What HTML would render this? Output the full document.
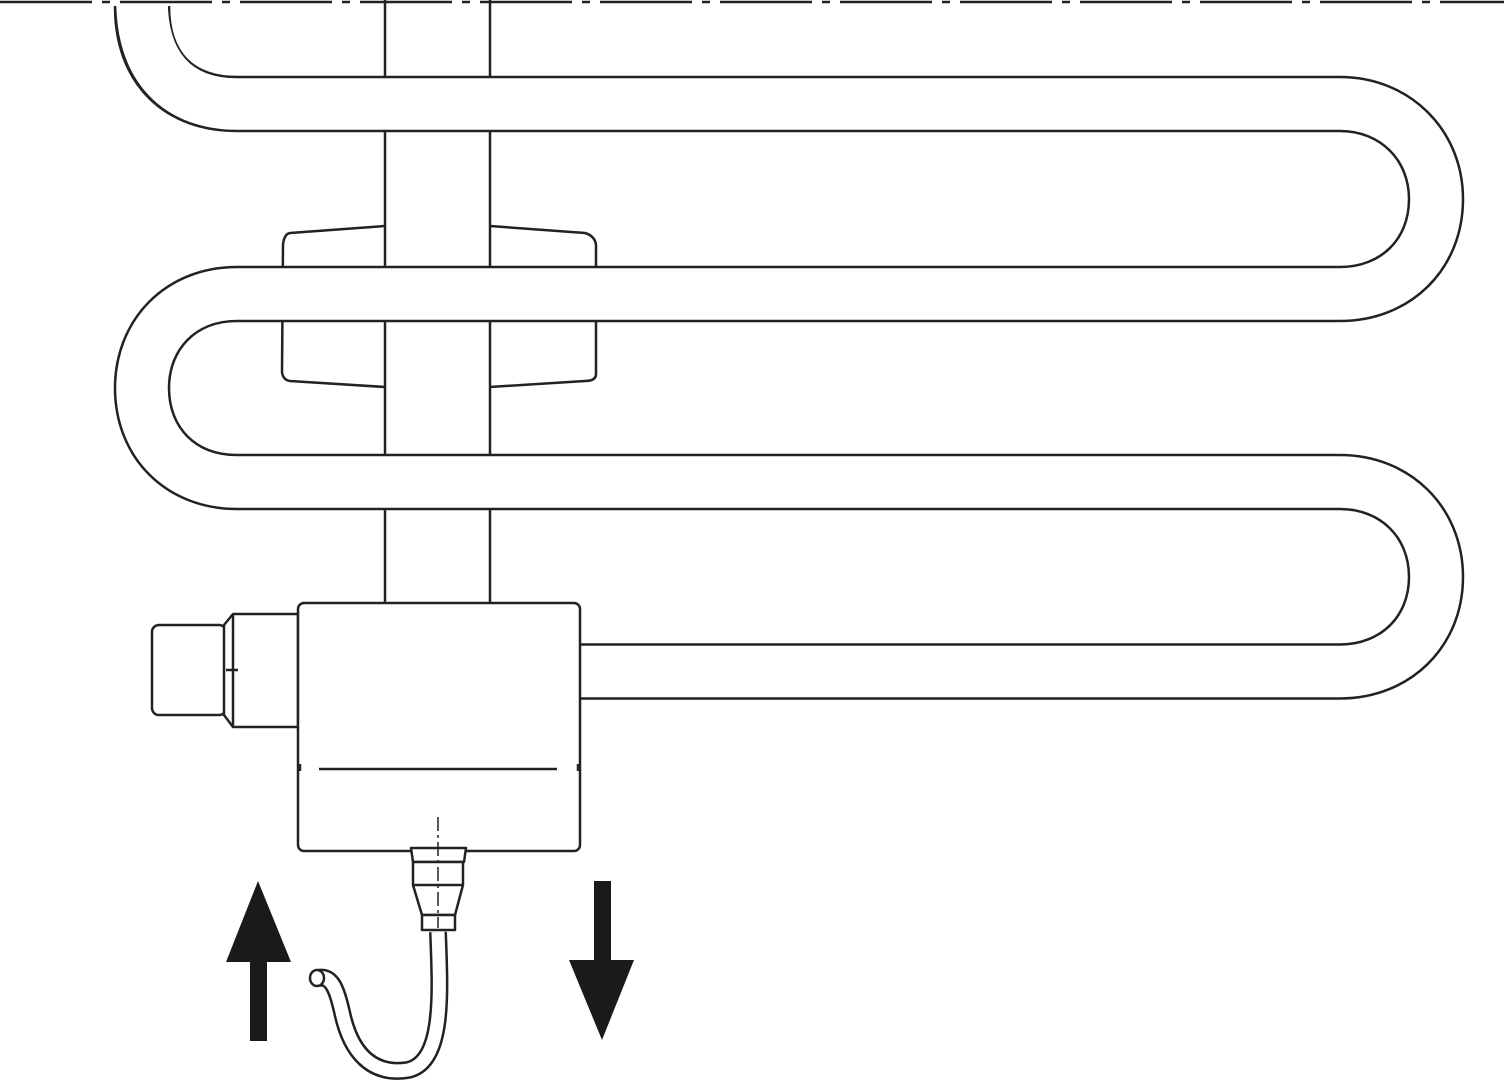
<!DOCTYPE html>
<html><head><style>html,body{margin:0;padding:0;background:#fff;}svg{display:block}</style></head>
<body>
<svg width="1504" height="1080" viewBox="0 0 1504 1080" xmlns="http://www.w3.org/2000/svg" fill="none" stroke="#222" stroke-width="2.5" stroke-linejoin="round">
<!-- bracket -->
<path d="M290,233 L385,226 L490,226 L585,233 Q595,236 596,245 L596,375 Q595,381 585,381 L490,387 L385,387 L290,381 Q283,380 282,372 L283,245 Q284,234 290,233 Z" fill="#fff"/>
<!-- bars -->
<rect x="385" y="0" width="105" height="605" fill="#fff" stroke="none"/>
<line x1="385" y1="0" x2="385" y2="605"/>
<line x1="490" y1="0" x2="490" y2="605"/>
<!-- tube -->
<g stroke-linecap="butt">
<path d="M142,6 C142,70 180,104 237,104 L1340,104 C1395,104 1436,145 1436,199 C1436,255 1395,294 1340,294 L237,294 C180,294 142,335 142,388 C142,442 180,482 237,482 L1340,482 C1395,482 1436,522 1436,577 C1436,632 1395,671.5 1340,671.5 L560,671.5" stroke="#222" stroke-width="56.5"/>
<path d="M142,0 C142,70 180,104 237,104 L1340,104 C1395,104 1436,145 1436,199 C1436,255 1395,294 1340,294 L237,294 C180,294 142,335 142,388 C142,442 180,482 237,482 L1340,482 C1395,482 1436,522 1436,577 C1436,632 1395,671.5 1340,671.5 L560,671.5" stroke="#fff" stroke-width="51.5"/>
</g>
<rect x="100" y="0" width="90" height="4" fill="#fff" stroke="none"/>
<!-- left fitting -->
<rect x="152" y="625" width="74" height="90" rx="7" fill="#fff"/>
<path d="M224,625 L233,614 L298,614 L298,727 L233,727 L224,715 Z" fill="#fff"/>
<line x1="233" y1="614" x2="233" y2="727"/>
<line x1="226" y1="670" x2="238" y2="670"/>
<!-- box -->
<rect x="298" y="603" width="282" height="248" rx="6" fill="#fff"/>
<line x1="319" y1="769" x2="557" y2="769"/>
<line x1="300" y1="764" x2="300" y2="771"/>
<line x1="578" y1="764" x2="578" y2="771"/>
<!-- connector -->
<path d="M438,932 C440,990 445,1062 408,1070 C370,1076 350,1050 342,1012 C337,990 332,975 318,978" stroke="#222" stroke-width="18" stroke-linecap="butt"/>
<path d="M438,932 C440,990 445,1062 408,1070 C370,1076 350,1050 342,1012 C337,990 332,975 318,978" stroke="#fff" stroke-width="13" stroke-linecap="butt"/>
<ellipse cx="317" cy="978" rx="7" ry="8" fill="#fff"/>
<path d="M411,848 L466,848 L464,862 L413,862 Z" fill="#fff"/>
<path d="M413,862 L463,862 L463,885 L455,915 L422,915 L413,885 Z" fill="#fff"/>
<line x1="413" y1="885" x2="463" y2="885"/>
<rect x="422" y="915" width="33" height="15" fill="#fff"/>
<line x1="438" y1="817" x2="438" y2="928" stroke-width="1.5" stroke-dasharray="14 4 3 4"/>
<!-- arrows -->
<g fill="#1a1a1a" stroke="none">
<rect x="250" y="960" width="17" height="81"/>
<polygon points="226,962 291,962 258,881"/>
<rect x="594" y="881" width="17" height="81"/>
<polygon points="569,960 634,960 602,1040"/>
</g>
<line x1="0" y1="2" x2="1504" y2="2" stroke-dasharray="92 10 8 10"/>
</svg>
</body></html>
